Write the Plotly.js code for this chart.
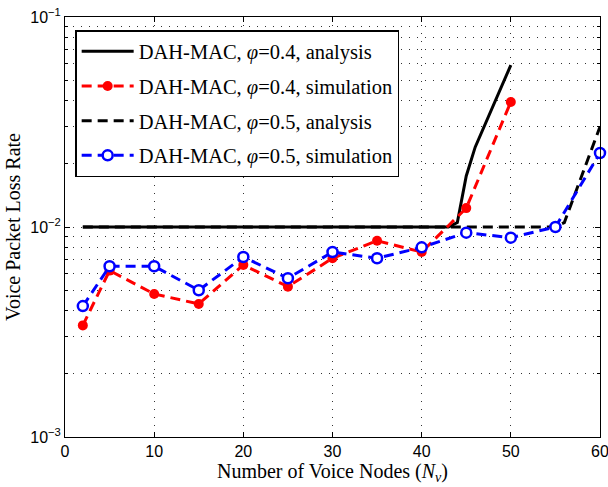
<!DOCTYPE html>
<html>
<head>
<meta charset="utf-8">
<script src="https://cdn.plot.ly/plotly-3.0.1.min.js"></script>
<style>html,body{margin:0;padding:0;background:#fff;}#chart{width:608px;height:487px;}</style>
</head>
<body>
<div id="chart"></div>
<script>
// Analysis curves
const xAna04 = [2, 43, 44, 45, 46, 47, 48, 49, 50];
const yAna04 = [0.01, 0.01, 0.0105, 0.0175, 0.024, 0.030, 0.038, 0.047, 0.059];
const xAna05 = [2, 55, 56, 57, 58, 59, 60];
const yAna05 = [0.01, 0.01, 0.0105, 0.0136, 0.0177, 0.023, 0.030];
// Simulation points
const xSim04 = [2, 5, 10, 15, 20, 25, 30, 35, 40, 45, 50];
const ySim04 = [0.0034, 0.0062, 0.0048, 0.0043, 0.0066, 0.0052, 0.0071, 0.0086, 0.0076, 0.0123, 0.0394];
const xSim05 = [2, 5, 10, 15, 20, 25, 30, 35, 40, 45, 50, 55, 60];
const ySim05 = [0.0042, 0.0065, 0.0065, 0.0050, 0.0072, 0.0057, 0.0076, 0.0071, 0.0080, 0.0094, 0.0089, 0.0100, 0.0225];

const names = [
  'DAH-MAC, <i>φ</i>=0.4, analysis',
  'DAH-MAC, <i>φ</i>=0.4, simulation',
  'DAH-MAC, <i>φ</i>=0.5, analysis',
  'DAH-MAC, <i>φ</i>=0.5, simulation'
];
const yTickVals = [0.001, 0.01, 0.1];
const yTickText = ['10<sup>−3</sup>', '10<sup>−2</sup>', '10<sup>−1</sup>'];
const xTickVals = [0, 10, 20, 30, 40, 50, 60];

const dashPat = '10px,6px';
const traces = [
  {x: xAna04, y: yAna04, name: names[0], mode: 'lines', legendgroup: 'a',
   line: {color: '#000', width: 3, dash: 'solid'}},
  {x: xSim04, y: ySim04, name: names[1], mode: 'lines+markers', legendgroup: 'b', cliponaxis: false,
   line: {color: '#ff0000', width: 3, dash: dashPat},
   marker: {color: '#ff0000', size: 10, symbol: 'circle'}},
  {x: xAna05, y: yAna05, name: names[2], mode: 'lines', legendgroup: 'c',
   line: {color: '#000', width: 3, dash: dashPat}},
  {x: xSim05, y: ySim05, name: names[3], mode: 'lines+markers', legendgroup: 'd', cliponaxis: false,
   line: {color: '#0000ff', width: 3, dash: dashPat},
   marker: {color: '#fff', size: 10, symbol: 'circle', line: {color: '#0000ff', width: 2.5}}}
];

const gridColor = '#333';
const gridDash = '1px,7px';
const serif = 'Liberation Serif, DejaVu Serif, serif';
const sans = 'Liberation Sans, Arial, sans-serif';
const layout = {
  width: 608, height: 487,
  margin: {l: 65, r: 8, t: 17, b: 50},
  paper_bgcolor: '#fff', plot_bgcolor: '#fff',
  showlegend: true,
  legend: {
    x: 0.019, y: 0.969, xanchor: 'left', yanchor: 'top',
    bgcolor: '#fff', bordercolor: '#000', borderwidth: 1.5,
    font: {family: serif, size: 20.5, color: '#000'},
    tracegroupgap: 5, itemwidth: 52
  },
  xaxis: {
    range: [0, 60], tickvals: xTickVals, ticktext: xTickVals.map(String),
    ticks: 'inside', ticklen: 5, tickcolor: '#000', mirror: 'ticks',
    showline: true, linecolor: '#000', linewidth: 1,
    showgrid: true, gridcolor: gridColor, griddash: gridDash, gridwidth: 1,
    zeroline: false, ticklabeloverflow: 'allow',
    tickfont: {family: sans, size: 16, color: '#000'},
    title: {text: 'Number of Voice Nodes (<i>N<sub>v</sub></i>)', standoff: 2,
            font: {family: serif, size: 20, color: '#000'}}
  },
  yaxis: {
    type: 'log', range: [-3, -1], tickvals: yTickVals, ticktext: yTickText,
    ticks: 'inside', ticklen: 5, tickcolor: '#000', mirror: 'ticks',
    showline: true, linecolor: '#000', linewidth: 1,
    showgrid: true, gridcolor: gridColor, griddash: gridDash, gridwidth: 1,
    zeroline: false,
    tickfont: {family: sans, size: 16, color: '#000'},
    minor: {dtick: 'D1', ticks: 'inside', ticklen: 3, tickcolor: '#000',
            showgrid: true, gridcolor: gridColor, griddash: gridDash, gridwidth: 1},
    title: {text: 'Voice Packet Loss Rate', standoff: 4,
            font: {family: serif, size: 20, color: '#000'}}
  }
};

Plotly.newPlot('chart', traces, layout, {displayModeBar: false, staticPlot: true});
</script>
</body>
</html>
